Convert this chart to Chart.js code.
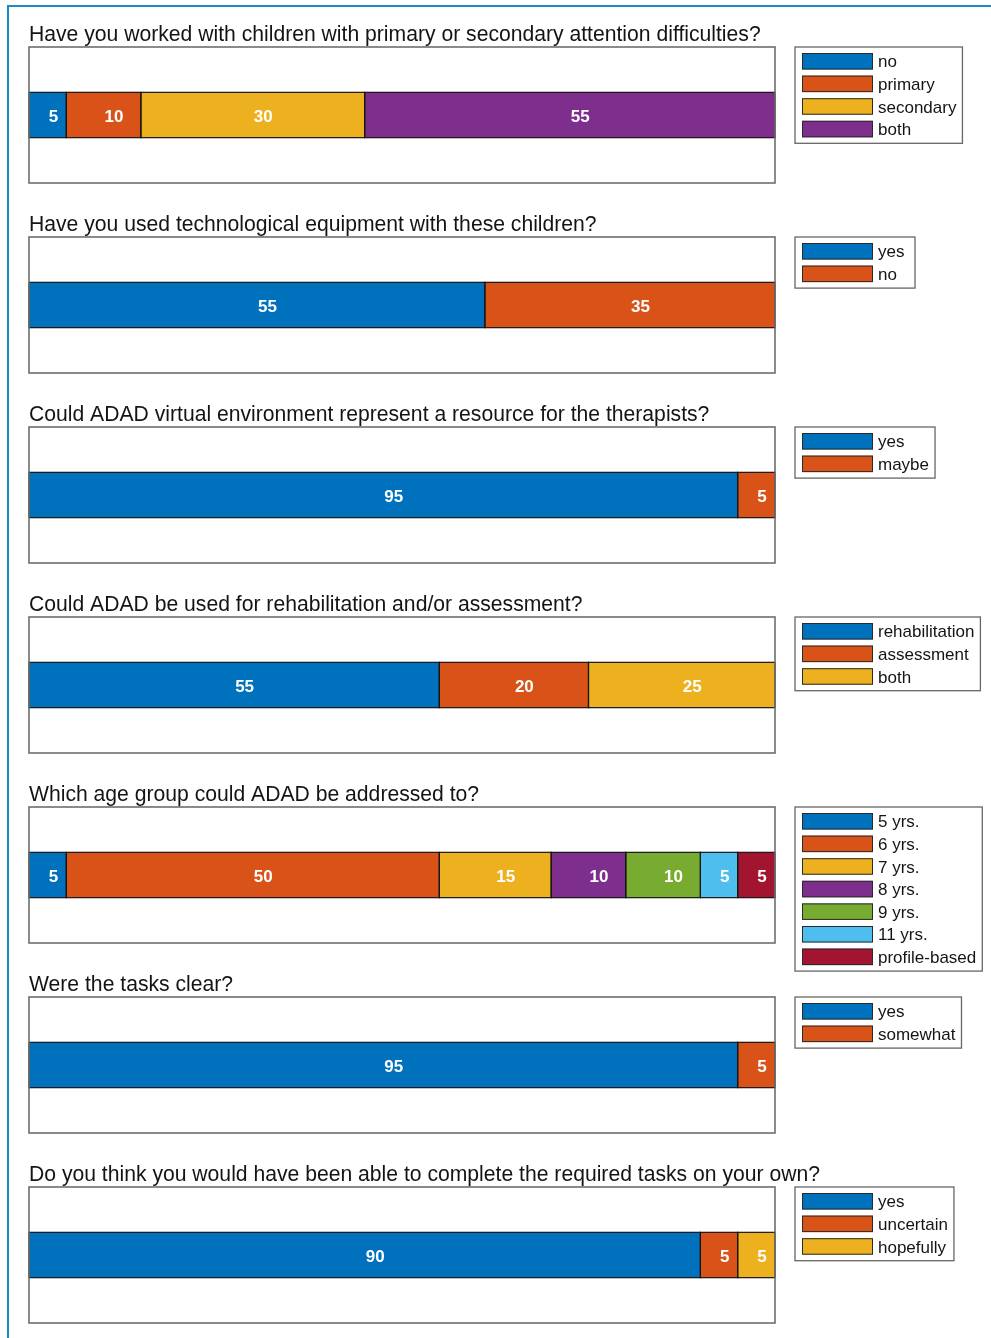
<!DOCTYPE html>
<html>
<head>
<meta charset="utf-8">
<script src="https://cdn.jsdelivr.net/npm/chart.js@4.4.1/dist/chart.umd.min.js"></script>
<style>
  html, body { margin: 0; padding: 0; background: #fff; }
  body { width: 991px; height: 1338px; position: relative; overflow: hidden; }
  #frameV { position: absolute; left: 7px; top: 5px; width: 2px; height: 1333px; background: #1b8bc6; }
  #frameH { position: absolute; left: 7px; top: 5px; width: 984px; height: 2px; background: #1b8bc6; }
  .panel { position: absolute; left: 0; width: 991px; height: 230px; }
</style>
</head>
<body>
<div id="frameV"></div>
<div id="frameH"></div>
<div id="wrap"></div>
<script>
// ---- data ----
const q1Title = "Have you worked with children with primary or secondary attention difficulties?";
const q1Labels = ["no", "primary", "secondary", "both"];
const q1Values = [5, 10, 30, 55];

const q2Title = "Have you used technological equipment with these children?";
const q2Labels = ["yes", "no"];
const q2Values = [55, 35];

const q3Title = "Could ADAD virtual environment represent a resource for the therapists?";
const q3Labels = ["yes", "maybe"];
const q3Values = [95, 5];

const q4Title = "Could ADAD be used for rehabilitation and/or assessment?";
const q4Labels = ["rehabilitation", "assessment", "both"];
const q4Values = [55, 20, 25];

const q5Title = "Which age group could ADAD be addressed to?";
const q5Labels = ["5 yrs.", "6 yrs.", "7 yrs.", "8 yrs.", "9 yrs.", "11 yrs.", "profile-based"];
const q5Values = [5, 50, 15, 10, 10, 5, 5];

const q6Title = "Were the tasks clear?";
const q6Labels = ["yes", "somewhat"];
const q6Values = [95, 5];

const q7Title = "Do you think you would have been able to complete the required tasks on your own?";
const q7Labels = ["yes", "uncertain", "hopefully"];
const q7Values = [90, 5, 5];

const palette = ["#0072BD", "#D95319", "#EDB120", "#7E2F8E", "#77AC30", "#4DBEEE", "#A2142F"];

const questions = [
  [q1Title, q1Labels, q1Values],
  [q2Title, q2Labels, q2Values],
  [q3Title, q3Labels, q3Values],
  [q4Title, q4Labels, q4Values],
  [q5Title, q5Labels, q5Values],
  [q6Title, q6Labels, q6Values],
  [q7Title, q7Labels, q7Values]
];

const FONT = '"Liberation Sans", Arial, Helvetica, sans-serif';

const panelPlugin = {
  id: 'panelDeco',
  afterDatasetsDraw(chart) {
    const ctx = chart.ctx;
    const ca = chart.chartArea;
    // segment outlines (dark edges)
    ctx.save();
    ctx.strokeStyle = '#151515';
    ctx.lineWidth = 1.2;
    chart.data.datasets.forEach((ds, i) => {
      const meta = chart.getDatasetMeta(i);
      meta.data.forEach((el) => {
        const l = Math.min(el.x, el.base), r = Math.max(el.x, el.base);
        const t = el.y - el.height / 2, b = el.y + el.height / 2;
        ctx.strokeRect(l, t, r - l, b - t);
      });
    });
    ctx.restore();
    // segment labels
    ctx.save();
    ctx.fillStyle = '#ffffff';
    ctx.font = 'bold 17px ' + FONT;
    ctx.textAlign = 'left';
    ctx.textBaseline = 'middle';
    chart.data.datasets.forEach((ds, i) => {
      const meta = chart.getDatasetMeta(i);
      meta.data.forEach((el, j) => {
        const cx = (el.x + el.base) / 2;
        ctx.fillText(String(ds.data[j]), cx + 1, el.y + 2.2);
      });
    });
    ctx.restore();
    // axes box
    ctx.save();
    ctx.strokeStyle = '#6e6e6e';
    ctx.lineWidth = 1.6;
    ctx.strokeRect(ca.left, ca.top, ca.right - ca.left, ca.bottom - ca.top);
    ctx.restore();
  },
  afterDraw(chart, args, opts) {
    const ctx = chart.ctx;
    const ca = chart.chartArea;
    // title
    ctx.save();
    ctx.fillStyle = '#141414';
    ctx.font = '21.15px ' + FONT;
    ctx.textAlign = 'left';
    ctx.textBaseline = 'alphabetic';
    ctx.fillText(opts.title, ca.left, ca.top - 6);
    ctx.restore();
    // legend
    ctx.save();
    ctx.font = '17px ' + FONT;
    const ds = chart.data.datasets;
    let maxW = 0;
    ds.forEach(d => { maxW = Math.max(maxW, ctx.measureText(d.label).width); });
    const lx = ca.right + 20, ly = ca.top;
    const swX = lx + 7, swW = 71, swH = 16.5, step = 22.6, firstY = ly + 6;
    const textX = swX + swW + 5;
    const boxW = Math.max(120, (textX + maxW + 6) - lx);
    const boxH = 6 + (ds.length - 1) * step + swH + 6;
    ctx.fillStyle = '#ffffff';
    ctx.fillRect(lx, ly, boxW, boxH);
    ctx.strokeStyle = '#666666';
    ctx.lineWidth = 1.3;
    ctx.strokeRect(lx, ly, boxW, boxH);
    ds.forEach((d, i) => {
      const y = firstY + i * step;
      ctx.fillStyle = d.backgroundColor;
      ctx.fillRect(swX, y, swW, swH);
      ctx.strokeStyle = '#2a2a2a';
      ctx.lineWidth = 1;
      ctx.strokeRect(swX + 0.5, y + 0.5, swW - 1, swH - 1);
      ctx.fillStyle = '#141414';
      ctx.textAlign = 'left';
      ctx.textBaseline = 'middle';
      ctx.fillText(d.label, textX, y + swH / 2 + 1.5);
    });
    ctx.restore();
  }
};

const wrap = document.getElementById('wrap');
questions.forEach((q, i) => {
  const [title, labels, values] = q;
  const div = document.createElement('div');
  div.className = 'panel';
  div.style.top = (190 * i) + 'px';
  const cv = document.createElement('canvas');
  cv.width = 991; cv.height = 230;
  cv.style.width = '991px'; cv.style.height = '230px';
  div.appendChild(cv);
  wrap.appendChild(div);
  const total = values.reduce((a, b) => a + b, 0);
  new Chart(cv, {
    type: 'bar',
    data: {
      labels: [''],
      datasets: labels.map((lab, k) => ({
        label: lab,
        data: [values[k]],
        backgroundColor: palette[k],
        borderWidth: 0,
        categoryPercentage: 1,
        barPercentage: 1 / 3
      }))
    },
    options: {
      indexAxis: 'y',
      responsive: false,
      animation: false,
      devicePixelRatio: 1,
      layout: { padding: { left: 29, right: 216, top: 47, bottom: 47 } },
      scales: {
        x: { stacked: true, min: 0, max: total, display: false },
        y: { stacked: true, display: false }
      },
      plugins: {
        legend: { display: false },
        tooltip: { enabled: false },
        title: { display: false },
        panelDeco: { title: title }
      }
    },
    plugins: [panelPlugin]
  });
});
</script>
</body>
</html>
